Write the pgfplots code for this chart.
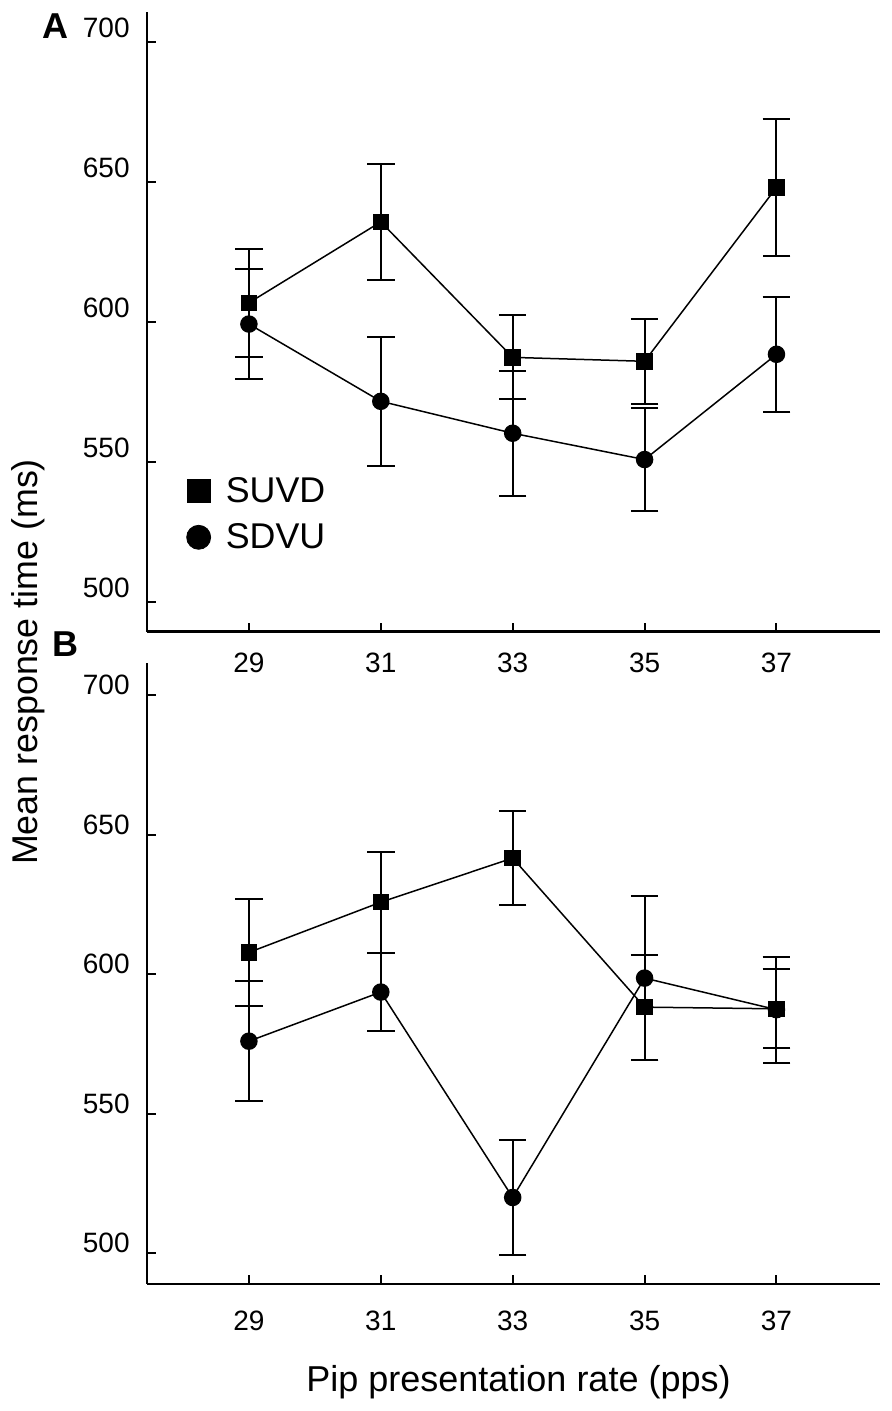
\documentclass[border=0pt]{standalone}
\usepackage{fontspec}
\setmainfont{Liberation Sans}
\usepackage{pgfplots}
\pgfplotsset{compat=1.18}
\begin{document}
\begin{tikzpicture}
\path[use as bounding box] (0,0) rectangle (446pt,705.5pt);
\pgfplotsset{
  panel/.style={
    scale only axis, width=366.65pt,
    xmin=27.45, xmax=38.57,
    axis x line*=bottom, axis y line*=left,
    axis line style={line width=1.2pt,-},
    xtick={29,31,33,35,37}, ytick={500,550,600,650,700},
    tick align=inside, major tick length=4.5pt,
    every tick/.style={black,line width=1pt},
    tick label style={font=\fontsize{14}{16}\selectfont},
    /pgf/number format/assume math mode=true,
    clip=false,
  },
  sq/.style={black, line width=0.75pt, mark=square*, mark size=3.75pt,
    mark options={solid,fill=black},
    error bars/.cd, y dir=both, y explicit,
    error bar style={line width=1pt},
    error mark=-,
    error mark options={black, rotate=90, mark size=6.9pt, line width=1pt}},
  ci/.style={black, line width=0.75pt, mark=*, mark size=4pt,
    mark options={solid,fill=black},
    error bars/.cd, y dir=both, y explicit,
    error bar style={line width=1pt},
    error mark=-,
    error mark options={black, rotate=90, mark size=6.9pt, line width=1pt}},
}
\pgfplotsset{legend image code/.code={\draw[#1] plot coordinates {(0pt,0pt)};}}
% Panel A
\begin{axis}[panel, at={(73.35pt,389.65pt)}, anchor=south west,
  height=309.85pt, ymin=489.3, ymax=710.7,
  xticklabel style={yshift=-7pt},
  yticklabel style={xshift=-5pt, yshift=7pt},
  legend style={draw=none, fill=none, at={(axis cs:28.05,544.6)}, anchor=north west,
    inner sep=0pt, row sep=9pt, column sep=7.6pt,
    font=\fontsize{17.9}{20}\selectfont, nodes={inner sep=0pt}},
  legend cell align=left,
]
\addplot[forget plot, sq] coordinates {
(29,606.8) +- (0,19.2)
(31,635.7) +- (0,20.7)
(33,587.3) +- (0,15.0)
(35,585.9) +- (0,15.2)
(37,648.0) +- (0,24.5)
};
\addplot[forget plot, ci] coordinates {
(29,599.2) +- (0,19.6)
(31,571.6) +- (0,23.0)
(33,560.2) +- (0,22.4)
(35,550.8) +- (0,18.5)
(37,588.4) +- (0,20.6)
};
\addlegendimage{black, mark=square*, mark size=5.75pt, mark options={fill=black}}
\addlegendentry{SUVD}
\addlegendimage{black, mark=*, mark size=6pt, mark options={fill=black}}
\addlegendentry{SDVU}
\end{axis}
% Panel B
\begin{axis}[panel, at={(73.35pt,63.5pt)}, anchor=south west,
  height=310.35pt, ymin=489.0, ymax=711.4,
  xticklabel style={yshift=-9.8pt},
  yticklabel style={xshift=-5pt, yshift=5pt},
]
\addplot[sq] coordinates {
(29,607.8) +- (0,19.2)
(31,625.8) +- (0,18.1)
(33,641.6) +- (0,16.9)
(35,588.2) +- (0,18.8)
(37,587.6) +- (0,14.2)
};
\addplot[ci] coordinates {
(29,576.0) +- (0,21.6)
(31,593.6) +- (0,14.0)
(33,520.0) +- (0,20.6)
(35,598.6) +- (0,29.3)
(37,587.3) +- (0,19.0)
};
\end{axis}
\node[anchor=base, rotate=90, font=\fontsize{17.9}{20}\selectfont] at (18.5pt,374.5pt) {Mean response time (ms)};
\node[anchor=base, font=\fontsize{18}{20}\selectfont] at (259.25pt,9.65pt) {Pip presentation rate (pps)};
\node[anchor=base, font=\bfseries\fontsize{18}{20}\selectfont] at (27.75pt,686pt) {A};
\node[anchor=base, font=\bfseries\fontsize{18}{20}\selectfont] at (32.5pt,377pt) {B};
\end{tikzpicture}
\end{document}
